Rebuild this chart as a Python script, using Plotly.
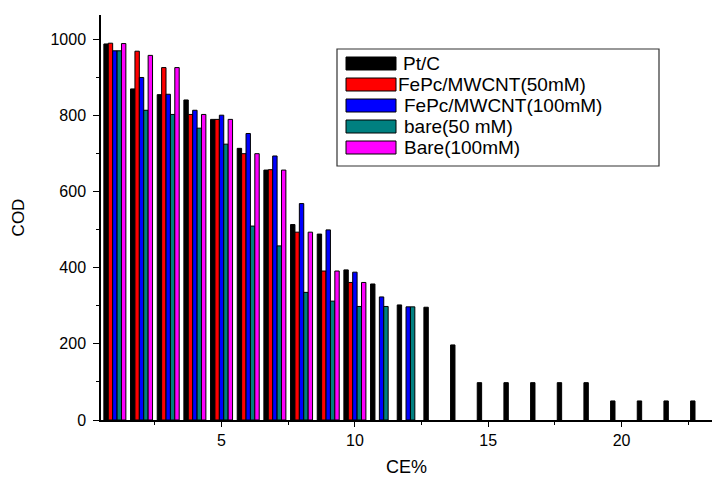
import plotly.graph_objects as go

# ---- data ----
groups = list(range(1, 24))
series_names = ["Pt/C", "FePc/MWCNT(50mM)", "FePc/MWCNT(100mM)", "bare(50 mM)", "Bare(100mM)"]
series_colors = ["#000000", "#FF0000", "#0000FF", "#008080", "#FF00FF"]

pt_c = [987, 869, 854, 840, 789, 713, 656, 513, 488, 394, 357, 302, 296, 197,
        98, 98, 98, 98, 98, 50, 50, 50, 50]
fepc_50 = [989, 968, 925, 802, 789, 699, 657, 493, 391, 361]
fepc_100 = [969, 899, 855, 813, 800, 752, 693, 568, 499, 388, 323, 297]
bare_50 = [969, 813, 802, 766, 724, 509, 457, 335, 312, 298, 298, 297]
bare_100 = [988, 957, 925, 802, 789, 699, 656, 493, 391, 361]

series_values = [pt_c, fepc_50, fepc_100, bare_50, bare_100]

x_ticks = [5, 10, 15, 20]
y_ticks = [0, 200, 400, 600, 800, 1000]

# ---- figure geometry (pixels) ----
W, H = 712, 477
L, R, T, B = 101, 0, 15, 57
PW, PH = W - L - R, H - T - B

FONT = "Liberation Sans, Arial, sans-serif"

fig = go.Figure()
for name, color, vals in zip(series_names, series_colors, series_values):
    fig.add_trace(go.Bar(
        x=groups[:len(vals)], y=vals, name=name,
        marker=dict(color=color, line=dict(color="black", width=1)),
        showlegend=False,
    ))

# ---- custom Origin-style legend (wide swatches) ----
def px_x(p):
    return (p - L) / PW

def px_y(p):
    return (H - B - p) / PH

box = dict(x0=337, x1=659, y0=49, y1=166)
shapes = [dict(type="rect", xref="paper", yref="paper",
               x0=px_x(box["x0"]), x1=px_x(box["x1"]),
               y0=px_y(box["y1"]), y1=px_y(box["y0"]),
               line=dict(color="#333333", width=1.2), fillcolor="white", layer="above")]
annotations = []
row_y = [63.5, 84.5, 105.5, 126.5, 147.5]
text_x = [401, 396, 402, 402, 402]
for i, (name, color) in enumerate(zip(series_names, series_colors)):
    cy = row_y[i]
    shapes.append(dict(type="rect", xref="paper", yref="paper",
                       x0=px_x(346), x1=px_x(396),
                       y0=px_y(cy + 6.5), y1=px_y(cy - 6.5),
                       line=dict(color="black", width=1), fillcolor=color, layer="above"))
    annotations.append(dict(xref="paper", yref="paper", x=px_x(text_x[i]), y=px_y(cy),
                            text=name, showarrow=False, xanchor="left", yanchor="middle",
                            font=dict(family=FONT, size=19, color="black")))

fig.update_layout(
    width=W, height=H,
    margin=dict(l=L, r=R, t=T, b=B),
    paper_bgcolor="white", plot_bgcolor="white",
    barmode="group", bargap=0.175, bargroupgap=0,
    font=dict(family=FONT, color="black"),
    shapes=shapes, annotations=annotations,
)
fig.update_xaxes(
    range=[0.48, 23.39], tickmode="array", tickvals=x_ticks,
    ticks="outside", ticklen=5, tickwidth=1.3, tickcolor="black",
    minor=dict(dtick=2.5, tick0=0, ticks="outside", ticklen=3, tickwidth=1.3, tickcolor="black"),
    showline=True, linecolor="black", linewidth=1.5, showgrid=False, zeroline=False,
    tickfont=dict(family=FONT, size=16),
    title=dict(text="CE%", font=dict(family=FONT, size=18), standoff=12),
    automargin=False,
)
fig.update_yaxes(
    range=[0, 1063], tickmode="array", tickvals=y_ticks,
    ticks="outside", ticklen=6, tickwidth=1.3, tickcolor="black",
    minor=dict(dtick=100, tick0=0, ticks="outside", ticklen=3, tickwidth=1.3, tickcolor="black"),
    showline=True, linecolor="black", linewidth=1.5, showgrid=False, zeroline=False,
    tickfont=dict(family=FONT, size=16), ticklabelstandoff=4,
    title=dict(text="COD", font=dict(family=FONT, size=17), standoff=22),
    automargin=False,
)

fig.write_html(
    "out.html",
    config={"displayModeBar": False},
    post_script="document.body.style.margin='0';document.body.style.padding='0';"
                "document.body.style.overflow='hidden';",
)
